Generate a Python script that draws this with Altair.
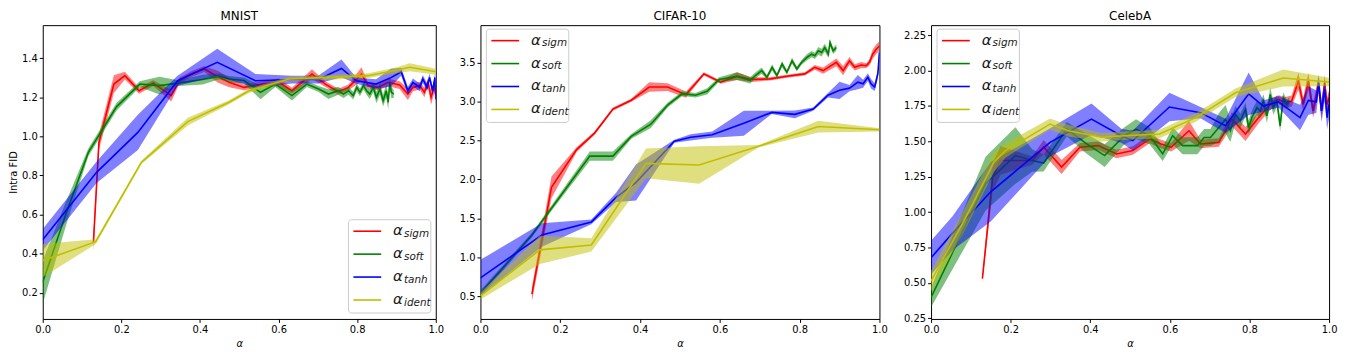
import altair as alt
import pandas as pd

SERIES = ["sigm", "soft", "tanh", "ident"]
COLORS = ["#ff0000", "#008000", "#0000ff", "#bfbf00"]
PANELS = ["MNIST", "CIFAR-10", "CelebA"]
X_TICKS = [0.0, 0.2, 0.4, 0.6, 0.8, 1.0]

# ---------------- MNIST ----------------
MNIST_SIGM_X = [0.129, 0.143, 0.181, 0.209, 0.245, 0.281, 0.327, 0.348, 0.378, 0.411, 0.445, 0.474, 0.512, 0.559, 0.601, 0.634, 0.685, 0.719, 0.752, 0.778, 0.811, 0.828, 0.853, 0.879, 0.908, 0.929, 0.942, 0.959, 0.971, 0.980, 0.988, 0.997, 1.0]
MNIST_SIGM_Y = [0.46, 0.97, 1.267, 1.31, 1.233, 1.272, 1.208, 1.285, 1.318, 1.344, 1.305, 1.276, 1.25, 1.267, 1.276, 1.233, 1.318, 1.267, 1.228, 1.25, 1.318, 1.259, 1.25, 1.276, 1.262, 1.216, 1.25, 1.259, 1.225, 1.276, 1.2, 1.259, 1.21]
MNIST_SIGM_E = [0.05, 0.04, 0.045, 0.02, 0.015, 0.015, 0.03, 0.015, 0.015, 0.015, 0.03, 0.025, 0.015, 0.015, 0.02, 0.015, 0.025, 0.015, 0.015, 0.015, 0.035, 0.015, 0.015, 0.02, 0.02, 0.03, 0.02, 0.02, 0.025, 0.02, 0.04, 0.03, 0.04]

MNIST_SOFT_X = [0.0, 0.06, 0.116, 0.188, 0.247, 0.297, 0.344, 0.407, 0.449, 0.474, 0.512, 0.554, 0.592, 0.634, 0.672, 0.702, 0.727, 0.752, 0.765, 0.778, 0.790, 0.799, 0.807, 0.816, 0.824, 0.832, 0.841, 0.849, 0.858, 0.866, 0.874, 0.879, 0.883, 0.887, 0.893]
MNIST_SOFT_Y = [0.255, 0.61, 0.918, 1.152, 1.267, 1.259, 1.272, 1.29, 1.306, 1.293, 1.285, 1.225, 1.267, 1.208, 1.267, 1.242, 1.216, 1.233, 1.216, 1.233, 1.208, 1.25, 1.225, 1.259, 1.233, 1.216, 1.25, 1.199, 1.242, 1.182, 1.233, 1.174, 1.276, 1.225, 1.216]
MNIST_SOFT_E = [0.11, 0.06, 0.02, 0.02, 0.015, 0.045, 0.015, 0.025, 0.015, 0.015, 0.015, 0.035, 0.015, 0.025, 0.015, 0.015, 0.025, 0.02, 0.02, 0.02, 0.02, 0.02, 0.02, 0.02, 0.02, 0.025, 0.025, 0.03, 0.03, 0.03, 0.035, 0.035, 0.03, 0.03, 0.02]

MNIST_TANH_X = [0.0, 0.137, 0.242, 0.343, 0.444, 0.541, 0.634, 0.701, 0.760, 0.798, 0.848, 0.886, 0.912, 0.929, 0.942, 0.959, 0.967, 0.978, 0.984, 0.992, 0.998, 1.0]
MNIST_TANH_Y = [0.472, 0.816, 1.02, 1.284, 1.378, 1.284, 1.29, 1.29, 1.347, 1.284, 1.267, 1.30, 1.33, 1.233, 1.276, 1.25, 1.293, 1.25, 1.301, 1.233, 1.301, 1.19]
MNIST_TANH_E = [0.055, 0.055, 0.09, 0.025, 0.07, 0.035, 0.02, 0.02, 0.045, 0.015, 0.025, 0.045, 0.02, 0.02, 0.02, 0.02, 0.02, 0.02, 0.02, 0.02, 0.02, 0.05]

MNIST_IDENT_X = [0.0, 0.135, 0.251, 0.369, 0.474, 0.525, 0.626, 0.727, 0.828, 0.896, 0.934, 1.0]
MNIST_IDENT_Y = [0.365, 0.462, 0.867, 1.075, 1.174, 1.233, 1.293, 1.301, 1.31, 1.336, 1.353, 1.33]
MNIST_IDENT_E = [0.085, 0.012, 0.008, 0.02, 0.01, 0.01, 0.012, 0.012, 0.012, 0.015, 0.02, 0.015]

# ---------------- CIFAR-10 ----------------
CIFAR_SIGM_X = [0.129, 0.178, 0.241, 0.286, 0.332, 0.378, 0.423, 0.469, 0.515, 0.56, 0.602, 0.643, 0.68, 0.726, 0.768, 0.813, 0.838, 0.859, 0.892, 0.909, 0.925, 0.938, 0.954, 0.967, 0.975, 0.983, 0.992, 1.0]
CIFAR_SIGM_Y = [0.53, 1.899, 2.383, 2.594, 2.902, 3.015, 3.184, 3.184, 3.087, 3.353, 3.247, 3.323, 3.28, 3.289, 3.323, 3.353, 3.437, 3.395, 3.50, 3.395, 3.52, 3.437, 3.466, 3.458, 3.5, 3.605, 3.669, 3.71]
CIFAR_SIGM_E = [0.09, 0.14, 0.03, 0.02, 0.02, 0.02, 0.06, 0.05, 0.04, 0.02, 0.02, 0.05, 0.03, 0.02, 0.02, 0.02, 0.03, 0.04, 0.05, 0.06, 0.05, 0.04, 0.04, 0.03, 0.04, 0.06, 0.06, 0.06]

CIFAR_SOFT_X = [0.0, 0.129, 0.162, 0.274, 0.332, 0.378, 0.427, 0.469, 0.506, 0.539, 0.568, 0.598, 0.643, 0.676, 0.689, 0.705, 0.718, 0.731, 0.743, 0.756, 0.768, 0.781, 0.793, 0.805, 0.818, 0.83, 0.838, 0.847, 0.855, 0.863, 0.872, 0.876, 0.884, 0.892]
CIFAR_SOFT_Y = [0.542, 1.288, 1.52, 2.299, 2.299, 2.552, 2.708, 2.952, 3.10, 3.079, 3.129, 3.281, 3.323, 3.269, 3.332, 3.395, 3.31, 3.437, 3.332, 3.479, 3.374, 3.521, 3.416, 3.5, 3.563, 3.605, 3.584, 3.648, 3.626, 3.69, 3.605, 3.753, 3.648, 3.69]
CIFAR_SOFT_E = [0.04, 0.03, 0.03, 0.06, 0.06, 0.03, 0.05, 0.03, 0.03, 0.03, 0.04, 0.03, 0.05, 0.04, 0.04, 0.04, 0.03, 0.04, 0.03, 0.04, 0.03, 0.04, 0.03, 0.03, 0.04, 0.04, 0.04, 0.05, 0.05, 0.05, 0.05, 0.05, 0.04, 0.04]

CIFAR_TANH_X = [0.0, 0.154, 0.278, 0.34, 0.39, 0.486, 0.527, 0.581, 0.66, 0.73, 0.788, 0.834, 0.871, 0.9, 0.925, 0.946, 0.959, 0.971, 0.979, 0.988, 0.992, 0.996, 1.0]
CIFAR_TANH_Y = [0.74, 1.288, 1.456, 1.77, 1.962, 2.489, 2.54, 2.573, 2.72, 2.859, 2.834, 2.902, 3.079, 3.142, 3.17, 3.247, 3.226, 3.31, 3.226, 3.184, 3.268, 3.353, 3.63]
CIFAR_TANH_E = [0.23, 0.15, 0.03, 0.06, 0.23, 0.02, 0.04, 0.04, 0.16, 0.02, 0.05, 0.02, 0.03, 0.11, 0.04, 0.09, 0.05, 0.05, 0.06, 0.05, 0.05, 0.05, 0.1]

CIFAR_IDENT_X = [0.0, 0.149, 0.278, 0.415, 0.548, 0.697, 0.847, 1.0]
CIFAR_IDENT_Y = [0.508, 1.098, 1.161, 2.206, 2.185, 2.425, 2.678, 2.636]
CIFAR_IDENT_E = [0.045, 0.18, 0.085, 0.19, 0.24, 0.015, 0.075, 0.02]

# ---------------- CelebA ----------------
CELEBA_SIGM_X = [0.129, 0.155, 0.175, 0.254, 0.283, 0.328, 0.374, 0.42, 0.466, 0.507, 0.549, 0.578, 0.603, 0.648, 0.677, 0.723, 0.756, 0.79, 0.823, 0.852, 0.873, 0.889, 0.906, 0.923, 0.935, 0.948, 0.96, 0.973, 0.981, 0.989, 0.995, 1.0]
CELEBA_SIGM_Y = [0.53, 1.25, 1.364, 1.364, 1.458, 1.318, 1.458, 1.469, 1.41, 1.434, 1.516, 1.481, 1.457, 1.574, 1.481, 1.492, 1.656, 1.551, 1.667, 1.76, 1.795, 1.772, 1.784, 1.924, 1.76, 1.924, 1.714, 1.9, 1.714, 1.912, 1.76, 1.807]
CELEBA_SIGM_E = [0.02, 0.1, 0.1, 0.03, 0.05, 0.05, 0.03, 0.03, 0.03, 0.03, 0.03, 0.03, 0.03, 0.07, 0.03, 0.03, 0.05, 0.05, 0.04, 0.04, 0.03, 0.04, 0.04, 0.06, 0.05, 0.06, 0.05, 0.06, 0.05, 0.06, 0.05, 0.05]

CELEBA_SOFT_X = [0.0, 0.137, 0.212, 0.254, 0.283, 0.341, 0.391, 0.436, 0.486, 0.515, 0.549, 0.582, 0.607, 0.632, 0.669, 0.686, 0.702, 0.723, 0.74, 0.752, 0.765, 0.777, 0.79, 0.798, 0.806, 0.819, 0.827, 0.835, 0.844, 0.852, 0.86, 0.869, 0.877, 0.885, 0.894, 0.9]
CELEBA_SOFT_Y = [0.397, 1.201, 1.399, 1.364, 1.346, 1.586, 1.481, 1.399, 1.539, 1.586, 1.539, 1.411, 1.539, 1.469, 1.469, 1.527, 1.527, 1.597, 1.656, 1.574, 1.69, 1.644, 1.726, 1.597, 1.667, 1.737, 1.714, 1.784, 1.679, 1.83, 1.737, 1.784, 1.609, 1.807, 1.76, 1.784]
CELEBA_SOFT_E = [0.07, 0.19, 0.2, 0.08, 0.06, 0.05, 0.07, 0.08, 0.06, 0.07, 0.06, 0.05, 0.06, 0.06, 0.06, 0.06, 0.06, 0.1, 0.1, 0.08, 0.06, 0.05, 0.05, 0.05, 0.05, 0.05, 0.05, 0.05, 0.05, 0.05, 0.05, 0.04, 0.04, 0.04, 0.03, 0.03]

CELEBA_TANH_X = [0.0, 0.054, 0.15, 0.299, 0.403, 0.478, 0.507, 0.599, 0.677, 0.74, 0.798, 0.835, 0.873, 0.927, 0.948, 0.968, 0.974, 0.981, 0.989, 0.995, 1.0]
CELEBA_TANH_Y = [0.677, 0.851, 1.143, 1.492, 1.656, 1.539, 1.504, 1.742, 1.702, 1.609, 1.835, 1.749, 1.779, 1.667, 1.788, 1.779, 1.912, 1.714, 1.865, 1.667, 1.76]
CELEBA_TANH_E = [0.12, 0.12, 0.21, 0.1, 0.11, 0.05, 0.07, 0.1, 0.04, 0.05, 0.15, 0.04, 0.04, 0.09, 0.1, 0.08, 0.06, 0.08, 0.08, 0.08, 0.1]

CELEBA_IDENT_X = [0.0, 0.083, 0.158, 0.187, 0.299, 0.345, 0.428, 0.486, 0.574, 0.665, 0.765, 0.885, 1.0]
CELEBA_IDENT_Y = [0.513, 0.94, 1.353, 1.434, 1.621, 1.574, 1.528, 1.539, 1.551, 1.667, 1.842, 1.947, 1.919]
CELEBA_IDENT_E = [0.07, 0.08, 0.07, 0.05, 0.04, 0.04, 0.03, 0.03, 0.03, 0.03, 0.03, 0.06, 0.03]

MNIST_DATA = [(MNIST_SIGM_X, MNIST_SIGM_Y, MNIST_SIGM_E), (MNIST_SOFT_X, MNIST_SOFT_Y, MNIST_SOFT_E),
              (MNIST_TANH_X, MNIST_TANH_Y, MNIST_TANH_E), (MNIST_IDENT_X, MNIST_IDENT_Y, MNIST_IDENT_E)]
CIFAR_DATA = [(CIFAR_SIGM_X, CIFAR_SIGM_Y, CIFAR_SIGM_E), (CIFAR_SOFT_X, CIFAR_SOFT_Y, CIFAR_SOFT_E),
              (CIFAR_TANH_X, CIFAR_TANH_Y, CIFAR_TANH_E), (CIFAR_IDENT_X, CIFAR_IDENT_Y, CIFAR_IDENT_E)]
CELEBA_DATA = [(CELEBA_SIGM_X, CELEBA_SIGM_Y, CELEBA_SIGM_E), (CELEBA_SOFT_X, CELEBA_SOFT_Y, CELEBA_SOFT_E),
               (CELEBA_TANH_X, CELEBA_TANH_Y, CELEBA_TANH_E), (CELEBA_IDENT_X, CELEBA_IDENT_Y, CELEBA_IDENT_E)]

MNIST_Y_DOMAIN = [0.067, 1.568]
MNIST_Y_TICKS = [0.2, 0.4, 0.6, 0.8, 1.0, 1.2, 1.4]
CIFAR_Y_DOMAIN = [0.213, 3.977]
CIFAR_Y_TICKS = [0.5, 1.0, 1.5, 2.0, 2.5, 3.0, 3.5]
CELEBA_Y_DOMAIN = [0.245, 2.32]
CELEBA_Y_TICKS = [0.25, 0.5, 0.75, 1.0, 1.25, 1.5, 1.75, 2.0, 2.25]

FONT = "DejaVu Sans"
HEIGHT = 296
LEG_W, LEG_H = 83, 94
ROW0, ROW_GAP = 11.6, 23.1

color_scale = alt.Scale(domain=SERIES, range=COLORS)


def legend_layers(x0, y0):
    box = alt.Chart(pd.DataFrame({"d": [0]})).mark_rect(
        fill="white", fillOpacity=0.8, stroke="#cccccc", strokeWidth=1, cornerRadius=3
    ).encode(x=alt.value(x0), x2=alt.value(x0 + LEG_W), y=alt.value(y0), y2=alt.value(y0 + LEG_H))
    ldf = pd.DataFrame({"series": SERIES, "row": list(range(len(SERIES)))})
    base = alt.Chart(ldf).transform_calculate(
        ly=f"{y0 + ROW0} + datum.row * {ROW_GAP}",
        lx1=f"{x0 + 5}", lx2=f"{x0 + 33}",
        ta=f"{x0 + 45}", ts=f"{x0 + 56}",
        ya=f"{y0 + ROW0 + 4} + datum.row * {ROW_GAP}",
        ys=f"{y0 + ROW0 + 5.7} + datum.row * {ROW_GAP}",
    )
    rules = base.mark_rule(strokeWidth=1.6).encode(
        x=alt.X("lx1:Q", scale=None, axis=None), x2="lx2:Q",
        y=alt.Y("ly:Q", scale=None, axis=None),
        color=alt.Color("series:N", scale=color_scale, legend=None),
    )
    alpha = base.mark_text(text="α", font=FONT, fontStyle="italic", fontSize=15, align="left",
                           baseline="alphabetic", color="#1a1a1a").encode(
        x=alt.X("ta:Q", scale=None, axis=None), y=alt.Y("ya:Q", scale=None, axis=None))
    subs = base.mark_text(font=FONT, fontStyle="italic", fontSize=10.5, align="left",
                          baseline="alphabetic", color="#1a1a1a").encode(
        x=alt.X("ts:Q", scale=None, axis=None), y=alt.Y("ys:Q", scale=None, axis=None),
        text="series:N")
    return [box, rules, alpha, subs]


def panel(title, data, ydom, yticks, yfmt, ytitle, width, legend_corner):
    xscale = alt.Scale(domain=[0, 1], nice=False, zero=False)
    yscale = alt.Scale(domain=ydom, nice=False, zero=False)
    xaxis = alt.Axis(values=X_TICKS, format=".1f", title="α", titleFontStyle="italic", titlePadding=4)
    yaxis = alt.Axis(values=yticks, format=yfmt, title=ytitle, titlePadding=3)
    layers = []
    for (xs, ys, es), color in zip(data, COLORS):
        df = pd.DataFrame({"a": xs, "v": ys,
                           "lo": [y - e for y, e in zip(ys, es)],
                           "hi": [y + e for y, e in zip(ys, es)]})
        base = alt.Chart(df)
        band = base.mark_area(color=color, opacity=0.5, clip=True).encode(
            x=alt.X("a:Q", scale=xscale, axis=xaxis),
            y=alt.Y("lo:Q", scale=yscale, axis=yaxis),
            y2="hi:Q")
        line = base.mark_line(color=color, strokeWidth=1.6, clip=True).encode(
            x=alt.X("a:Q", scale=xscale, axis=xaxis),
            y=alt.Y("v:Q", scale=yscale, axis=yaxis))
        layers += [band, line]
    if legend_corner == "bottom-right":
        x0, y0 = width - 5 - LEG_W, HEIGHT - 6 - LEG_H
    else:
        x0, y0 = 6, 4
    layers += legend_layers(x0, y0)
    return alt.layer(*layers).properties(
        width=width, height=HEIGHT,
        title=alt.TitleParams(title, font=FONT, fontSize=12, fontWeight="normal", color="#000", offset=2),
    )


p1 = panel(PANELS[0], MNIST_DATA, MNIST_Y_DOMAIN, MNIST_Y_TICKS, ".1f", "Intra FID", 396, "bottom-right")
p2 = panel(PANELS[1], CIFAR_DATA, CIFAR_Y_DOMAIN, CIFAR_Y_TICKS, ".1f", None, 402, "top-left")
p3 = panel(PANELS[2], CELEBA_DATA, CELEBA_Y_DOMAIN, CELEBA_Y_TICKS, ".2f", None, 401, "top-left")

chart = alt.hconcat(p1, p2, p3, spacing=14).properties(
    padding={"left": 0, "top": 0, "right": 0, "bottom": 0}
).configure_axis(
    labelFont=FONT, labelFontSize=10, labelColor="#000", labelFlush=False, labelOverlap=False,
    labelPadding=2, tickColor="#000", tickSize=3.5, tickWidth=1, domain=False, grid=False,
    titleFont=FONT, titleFontSize=10, titleFontWeight="normal", titleColor="#000",
).configure_view(stroke="#000", strokeWidth=1)

chart.save("out.html", embed_options={"renderer": "svg", "actions": False})
